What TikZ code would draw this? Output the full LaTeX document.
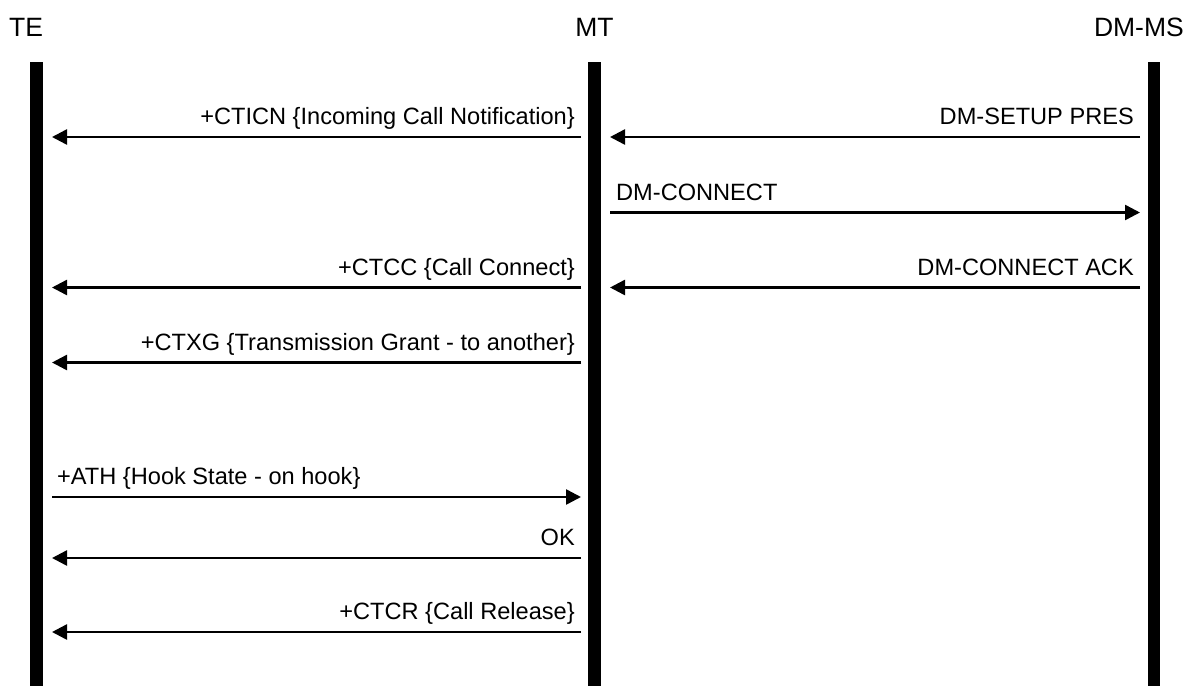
\documentclass[tikz,border=0pt]{standalone}
\usepackage{fontspec}
\setmainfont{Liberation Sans}
\usetikzlibrary{arrows.meta}
\tikzset{
  lbl/.style={font=\fontsize{23.6}{28}\selectfont, inner sep=0pt},
  hdr/.style={font=\fontsize{26.5}{30}\selectfont, inner sep=0pt},
  lifebar/.style={fill=black, draw=none},
  msg/.style={line width=2.5pt, -{Triangle[length=15pt,width=15pt]}},
}
\begin{document}
\begin{tikzpicture}[x=1pt,y=-1pt]
\useasboundingbox (0,0) rectangle (1191,686);
% headers
\node[hdr, anchor=base west] (hTE) at (9,36) {TE};
\node[hdr, anchor=base] (hMT) at (594.5,36) {MT};
\node[hdr, anchor=base east] (hDM) at (1184,36) {DM-MS};
% lifelines
\fill[lifebar] (30,62) rectangle (42.5,686);
\fill[lifebar] (588.3,62) rectangle (600.7,686);
\fill[lifebar] (1147.7,62) rectangle (1160,686);
% message end points
\foreach \n/\y in {1/137,2/212.5,3/287.5,4/362.5,5/497,6/558,7/632}{
  \coordinate (teR\n) at (52,\y);
  \coordinate (mtL\n) at (581,\y);
  \coordinate (mtR\n) at (610,\y);
  \coordinate (dmL\n) at (1140,\y);
}
% messages
\draw[msg] (mtL1) -- (teR1);
\node[lbl, anchor=base east] (l1) at ([xshift=-6pt,yshift=12.5pt]mtL1) {+CTICN \{Incoming Call Notification\}};
\draw[msg] (dmL1) -- (mtR1);
\node[lbl, anchor=base east] (r1) at ([xshift=-6pt,yshift=12.5pt]dmL1) {DM-SETUP PRES};
\draw[msg] (mtR2) -- (dmL2);
\node[lbl, anchor=base west] (r2) at ([xshift=6pt,yshift=12.5pt]mtR2) {DM-CONNECT};
\draw[msg] (mtL3) -- (teR3);
\node[lbl, anchor=base east] (l3) at ([xshift=-6pt,yshift=12.5pt]mtL3) {+CTCC \{Call Connect\}};
\draw[msg] (dmL3) -- (mtR3);
\node[lbl, anchor=base east] (r3) at ([xshift=-6pt,yshift=12.5pt]dmL3) {DM-CONNECT ACK};
\draw[msg] (mtL4) -- (teR4);
\node[lbl, anchor=base east] (l4) at ([xshift=-6pt,yshift=12.5pt]mtL4) {+CTXG \{Transmission Grant - to another\}};
\draw[msg] (teR5) -- (mtL5);
\node[lbl, anchor=base west] (l5) at ([xshift=5pt,yshift=12.5pt]teR5) {+ATH \{Hook State - on hook\}};
\draw[msg] (mtL6) -- (teR6);
\node[lbl, anchor=base east] (l6) at ([xshift=-6pt,yshift=12.5pt]mtL6) {OK};
\draw[msg] (mtL7) -- (teR7);
\node[lbl, anchor=base east] (l7) at ([xshift=-6pt,yshift=12.5pt]mtL7) {+CTCR \{Call Release\}};
\end{tikzpicture}
\end{document}
